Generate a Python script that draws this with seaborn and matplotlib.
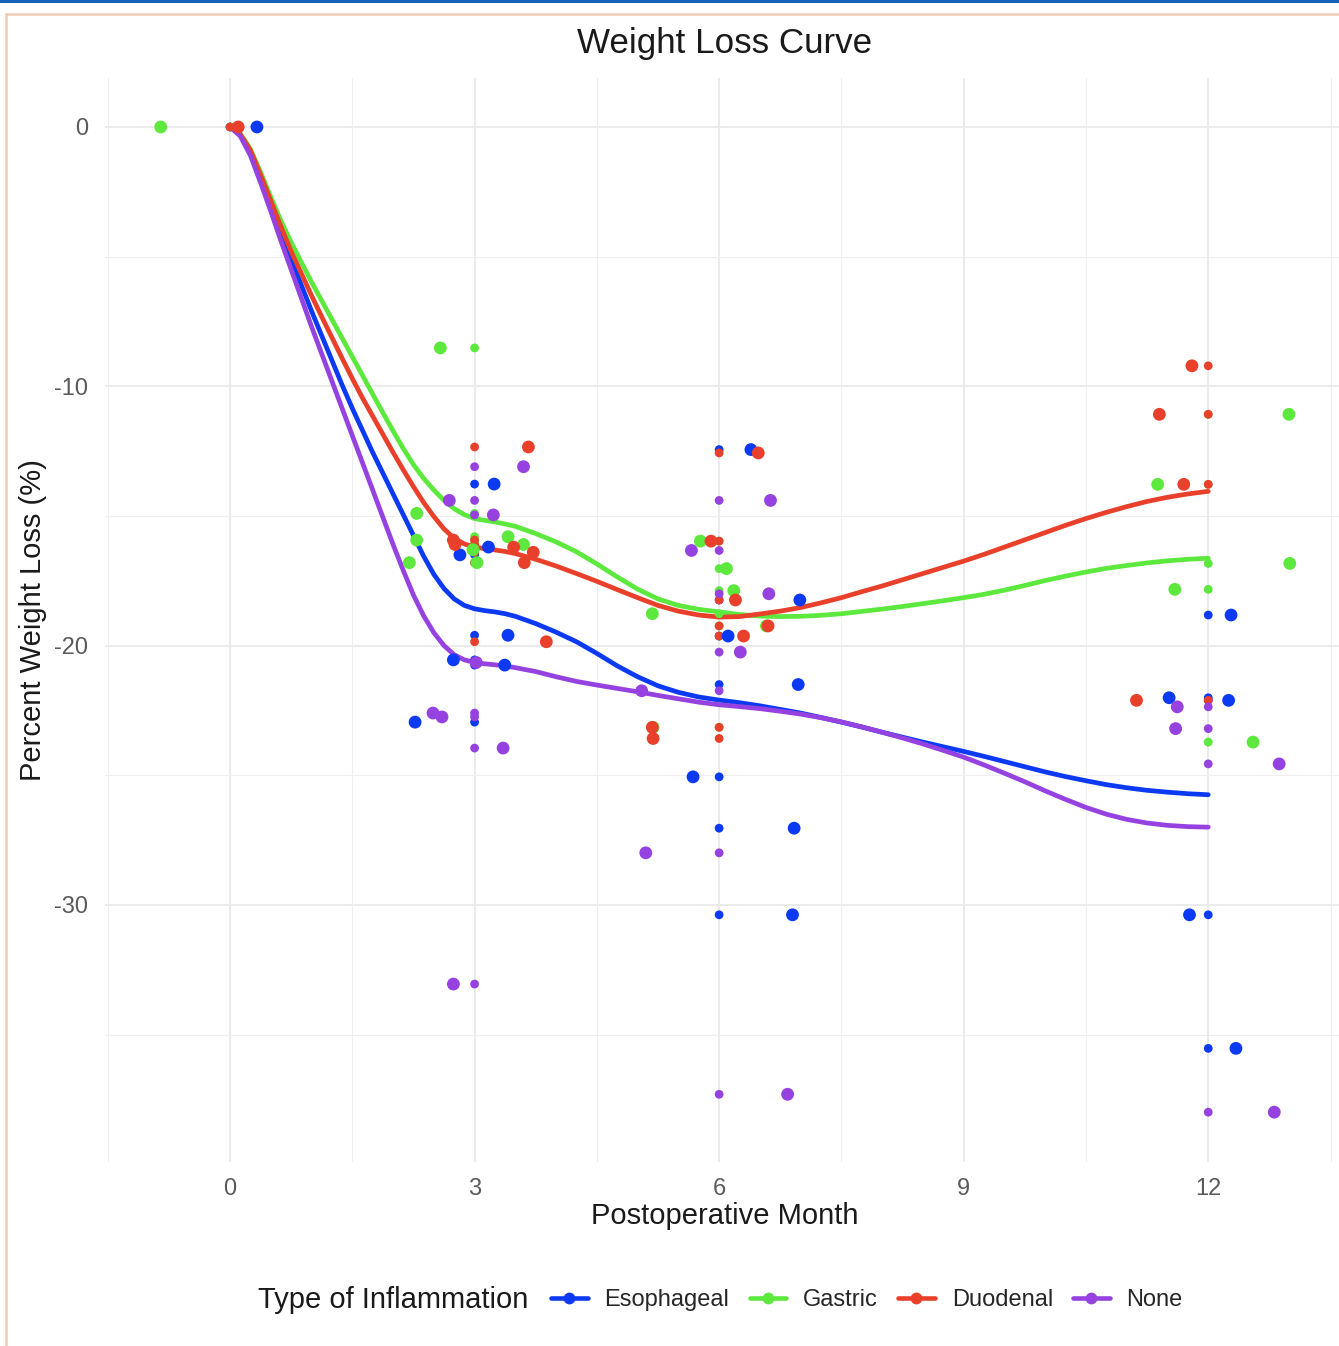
import numpy as np
import pandas as pd
import matplotlib
matplotlib.use("Agg")
import matplotlib.pyplot as plt
from matplotlib.lines import Line2D
from matplotlib.patches import Rectangle
import seaborn as sns

# ---- inflammation groups and colours ----
groups = ["Esophageal", "Gastric", "Duodenal", "None"]
colors = ["#0B3AF2", "#5CE83C", "#E8402A", "#9542E0"]

# ---- individual observations: visit month, jittered month, % weight loss ----
esoph_month = [0, 3, 3, 3, 3, 3, 3, 3, 6, 6, 6, 6, 6, 6, 6, 12, 12, 12, 12, 12]
esoph_jitter = [0.33, 3.24, 3.17, 2.82, 3.41, 2.74, 3.37, 2.27,
                6.39, 6.99, 6.11, 6.97, 5.68, 6.92, 6.90,
                12.28, 11.52, 12.25, 11.77, 12.34]
esoph_pct = [0, -13.77, -16.2, -16.5, -19.6, -20.55, -20.75, -22.95,
             -12.44, -18.24, -19.63, -21.5, -25.06, -27.04, -30.38,
             -18.82, -22.01, -22.11, -30.38, -35.53]

gastric_month = [0, 3, 3, 3, 3, 3, 3, 3, 3, 6, 6, 6, 6, 6, 6, 12, 12, 12, 12, 12]
gastric_jitter = [-0.85, 2.58, 2.29, 2.29, 3.41, 3.60, 2.98, 3.03, 2.20,
                  5.77, 6.09, 6.18, 5.18, 6.58, 5.19,
                  12.99, 11.38, 13.00, 11.59, 12.55]
gastric_pct = [0, -8.52, -14.9, -15.93, -15.8, -16.1, -16.3, -16.8, -16.8,
               -15.97, -17.03, -17.88, -18.77, -19.24, -23.15,
               -11.08, -13.78, -16.83, -17.83, -23.72]

duod_month = [0, 3, 3, 3, 3, 3, 3, 3, 6, 6, 6, 6, 6, 6, 6, 12, 12, 12, 12]
duod_jitter = [0.10, 3.66, 2.74, 2.76, 3.48, 3.72, 3.61, 3.88,
               6.48, 5.90, 6.20, 6.60, 6.30, 5.18, 5.19,
               11.80, 11.40, 11.70, 11.12]
duod_pct = [0, -12.34, -15.93, -16.1, -16.2, -16.4, -16.8, -19.85,
            -12.57, -15.97, -18.24, -19.24, -19.63, -23.15, -23.58,
            -9.21, -11.08, -13.78, -22.11]

none_month = [3, 3, 3, 3, 3, 3, 3, 3, 6, 6, 6, 6, 6, 6, 6, 12, 12, 12, 12]
none_jitter = [3.60, 2.69, 3.23, 3.02, 2.49, 2.60, 3.35, 2.74,
               6.63, 5.66, 6.61, 6.26, 5.05, 5.10, 6.84,
               11.62, 11.60, 12.87, 12.81]
none_pct = [-13.1, -14.4, -14.96, -20.65, -22.6, -22.75, -23.95, -33.05,
            -14.4, -16.33, -18.0, -20.25, -21.74, -27.99, -37.3,
            -22.36, -23.2, -24.56, -37.99]

# ---- smoothed weight-loss trend per group ----
curve_month = [0, 0.125, 0.25, 0.375, 0.5, 0.625, 0.75, 0.875, 1.0, 1.125, 1.25,
               1.375, 1.5, 1.625, 1.75, 1.875, 2.0, 2.125, 2.25, 2.375, 2.5, 2.625,
               2.75, 2.875, 3.0, 3.125, 3.25, 3.375, 3.5,
               3.75, 4.0, 4.25, 4.5, 4.75, 5.0, 5.25, 5.5, 5.75, 6.0, 6.25, 6.5, 6.75, 7.0,
               7.25, 7.5, 7.75, 8.0, 8.25, 8.5, 8.75, 9.0, 9.25, 9.5, 9.75, 10.0,
               10.25, 10.5, 10.75, 11.0, 11.25, 11.5, 11.75, 12.0]
esoph_curve = [0, -0.3, -1.0, -1.95, -3.0, -4.05, -5.1, -6.1, -7.1, -8.05, -9.0,
               -9.95, -10.85, -11.7, -12.55, -13.35, -14.15, -14.95, -15.75, -16.55, -17.25,
               -17.8, -18.2, -18.45, -18.58, -18.65, -18.7, -18.77, -18.87,
               -19.15, -19.48, -19.85, -20.3, -20.78, -21.2, -21.55, -21.8, -21.98, -22.1,
               -22.2, -22.32, -22.46, -22.6,
               -22.77, -22.95, -23.14, -23.34, -23.53, -23.72, -23.9, -24.08, -24.27, -24.47,
               -24.67, -24.87, -25.05, -25.21, -25.36, -25.48, -25.58, -25.65, -25.71, -25.75]
gastric_curve = [0, -0.25, -0.85, -1.75, -2.7, -3.62, -4.45, -5.22, -5.98, -6.7, -7.42,
                 -8.14, -8.86, -9.58, -10.3, -11.02, -11.72, -12.4, -13.02, -13.55, -14.0,
                 -14.4, -14.72, -14.95, -15.1, -15.17, -15.23, -15.31, -15.4,
                 -15.68, -16.0, -16.38, -16.85, -17.35, -17.82, -18.2, -18.45, -18.6, -18.7,
                 -18.8, -18.86, -18.88, -18.87,
                 -18.83, -18.77, -18.68, -18.59, -18.49, -18.38, -18.27, -18.15, -18.02, -17.86,
                 -17.68, -17.49, -17.32, -17.16, -17.02, -16.91, -16.81, -16.73, -16.67, -16.63]
duod_curve = [0, -0.28, -0.9, -1.85, -2.85, -3.85, -4.8, -5.65, -6.5, -7.32, -8.12,
              -8.92, -9.7, -10.45, -11.15, -11.85, -12.55, -13.22, -13.87, -14.48, -15.02,
              -15.5, -15.86, -16.08, -16.2, -16.26, -16.31, -16.37, -16.45,
              -16.67, -16.93, -17.22, -17.52, -17.84, -18.15, -18.45, -18.67, -18.82, -18.9,
              -18.88, -18.78, -18.67, -18.53,
              -18.35, -18.15, -17.92, -17.7, -17.46, -17.22, -16.98, -16.74, -16.48, -16.2,
              -15.92, -15.64, -15.36, -15.1, -14.86, -14.64, -14.44, -14.28, -14.15, -14.05]
none_curve = [0, -0.35, -1.1, -2.15, -3.25, -4.4, -5.5, -6.6, -7.7, -8.75, -9.8,
              -10.85, -11.9, -12.95, -14.0, -15.05, -16.1, -17.1, -18.05, -18.85, -19.5,
              -20.0, -20.35, -20.55, -20.65, -20.7, -20.74, -20.78, -20.85,
              -21.0, -21.2, -21.38, -21.52, -21.65, -21.78, -21.92, -22.05, -22.18, -22.28,
              -22.35, -22.43, -22.53, -22.64,
              -22.78, -22.94, -23.13, -23.34, -23.56, -23.79, -24.04, -24.3, -24.6, -24.92,
              -25.25, -25.6, -25.93, -26.24, -26.5, -26.7, -26.84, -26.93, -26.98, -27.0]

x_ticks = [0, 3, 6, 9, 12]
y_ticks = [0, -10, -20, -30]

# ---- tidy tables ----
obs = pd.concat([
    pd.DataFrame({"group": g, "month": m, "jitter": j, "pct": p})
    for g, m, j, p in [
        ("Esophageal", esoph_month, esoph_jitter, esoph_pct),
        ("Gastric", gastric_month, gastric_jitter, gastric_pct),
        ("Duodenal", duod_month, duod_jitter, duod_pct),
        ("None", none_month, none_jitter, none_pct),
    ]
], ignore_index=True)

curves = pd.concat([
    pd.DataFrame({"group": g, "month": curve_month, "pct": c})
    for g, c in zip(groups, [esoph_curve, gastric_curve, duod_curve, none_curve])
], ignore_index=True)

palette = dict(zip(groups, colors))

# ---- styling ----
sns.set_style("white")
plt.rcParams["font.family"] = ["Liberation Sans", "DejaVu Sans"]
plt.rcParams["axes.unicode_minus"] = False

W, H = 1339, 1346
fig = plt.figure(figsize=(W / 100, H / 100), dpi=100)
fig.patch.set_facecolor("white")

# page frame
fig.add_artist(Rectangle((0, 1 - 2.5 / H), 1, 2.5 / H, transform=fig.transFigure,
                         facecolor="#1763B8", edgecolor="none", zorder=0))
fig.add_artist(Line2D([6 / W, 1], [1 - 13.5 / H, 1 - 13.5 / H], transform=fig.transFigure,
                      color="#EDCDB3", lw=1.8, zorder=0))
fig.add_artist(Line2D([6 / W, 6 / W], [0, 1 - 13.5 / H], transform=fig.transFigure,
                      color="#EDCDB3", lw=1.8, zorder=0))

ax = fig.add_axes([104.5 / W, 1 - 1161.7 / H, (1346 - 104.5) / W, (1161.7 - 77.7) / H])
ax.set_facecolor("white")

sns.lineplot(data=curves, x="month", y="pct", hue="group", hue_order=groups,
             palette=palette, lw=3.4, legend=False, estimator=None, sort=True,
             ax=ax, zorder=2)
for ln in ax.get_lines():
    ln.set_solid_joinstyle("round")
    ln.set_solid_capstyle("round")
sns.scatterplot(data=obs, x="month", y="pct", hue="group", hue_order=groups,
                palette=palette, s=40, linewidth=0, legend=False, ax=ax, zorder=3)
sns.scatterplot(data=obs, x="jitter", y="pct", hue="group", hue_order=groups,
                palette=palette, s=85, linewidth=0, legend=False, ax=ax, zorder=3)

ax.set_xlim(-1.54, 13.69)
ax.set_ylim(-39.9, 1.9)
ax.set_xticks(x_ticks)
ax.set_yticks(y_ticks)
ax.set_xticklabels([str(t) for t in x_ticks])
ax.set_yticklabels([str(t) for t in y_ticks])
ax.set_xticks(np.arange(-1.5, 14, 3), minor=True)
ax.set_yticks([-5, -15, -25, -35], minor=True)
ax.grid(which="major", color="#EBEBEB", lw=1.5)
ax.grid(which="minor", color="#EFEFEF", lw=0.8)
ax.set_axisbelow(True)
for s in ax.spines.values():
    s.set_visible(False)
ax.tick_params(which="both", length=0)
ax.tick_params(axis="both", labelsize=17, labelcolor="#5A5A5A", pad=12)
ax.set_xlabel("")
ax.set_ylabel("")

# titles
fig.text(725 / W, 1 - 44 / H, "Weight Loss Curve", ha="center", va="center",
         fontsize=25.2, color="#1A1A1A")
fig.text(725 / W, 1 - 1216 / H, "Postoperative Month", ha="center", va="center",
         fontsize=21, color="#1A1A1A")
fig.text(33 / W, 1 - 620 / H, "Percent Weight Loss (%)", ha="center", va="center",
         rotation=90, fontsize=21, color="#1A1A1A")

# legend
fig.text(258 / W, 1 - 1300 / H, "Type of Inflammation", ha="left", va="center",
         fontsize=21, color="#1A1A1A")
handles = [Line2D([0], [0], color=c, lw=3.3, marker="o", markersize=8.5,
                  markeredgewidth=0) for c in colors]
fig.legend(handles, groups, loc="center left", bbox_to_anchor=(551 / W, 1 - 1300 / H),
           ncol=4, frameon=False, fontsize=17, handlelength=1.55, handletextpad=0.72,
           columnspacing=0.85, borderpad=0, borderaxespad=0)

fig.savefig("out.png", dpi=100, facecolor="white")
